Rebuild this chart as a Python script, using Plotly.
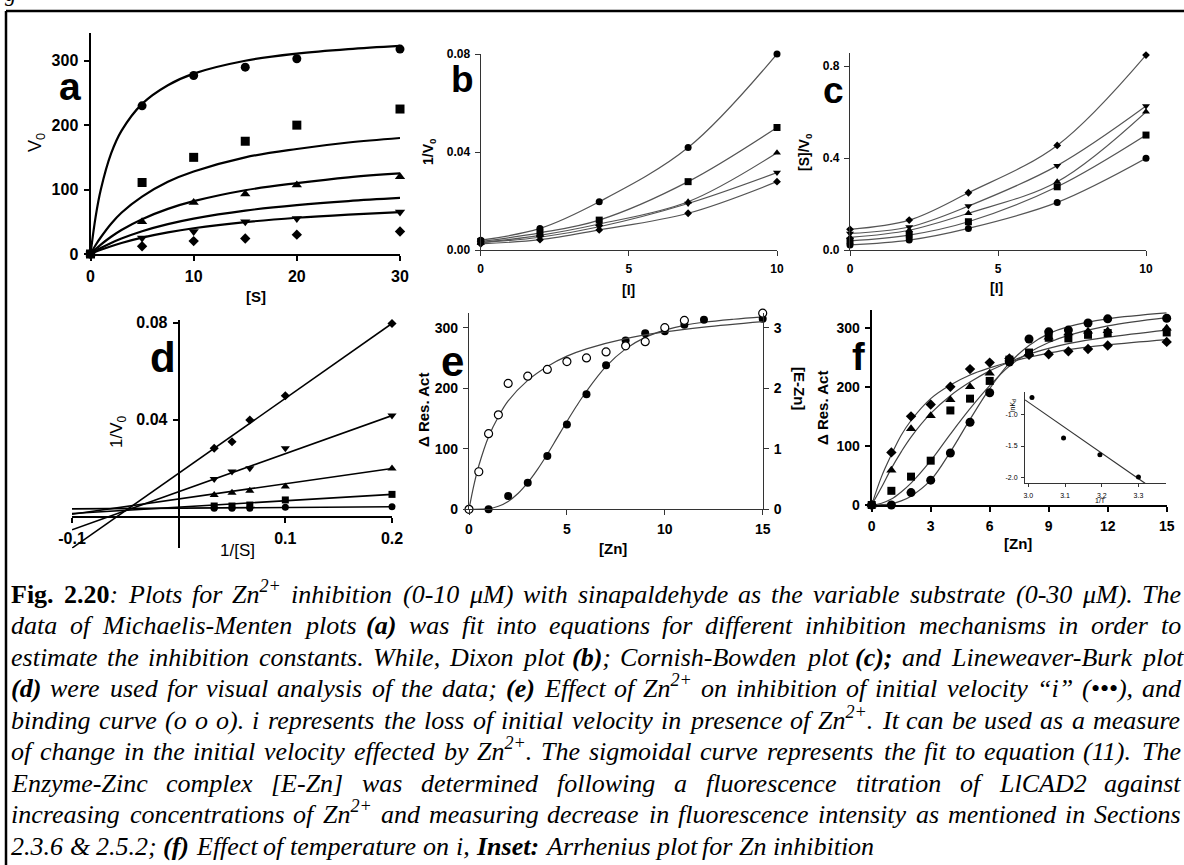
import plotly.graph_objects as go

W, H = 1184, 865

# ---------------- data ----------------
# Panel a: Michaelis-Menten
a_S = [0, 5, 10, 15, 20, 30]
a_circle = [0, 230, 277, 290, 303, 318]
a_square = [0, 111, 150, 175, 200, 225]
a_tri_up = [0, 50, 80, 93, 107, 120]
a_tri_down = [0, 25, 35, 50, 55, 65]
a_diamond = [0, 12, 20, 24, 30, 35]
a_fit_S = [0, 0.5, 1, 2, 3, 5, 7.5, 10, 15, 20, 25, 30]
a_fit1 = [0, 58, 100, 156, 191, 233, 262, 280, 300, 311, 318, 323]
a_fit2 = [0, 14, 26, 47, 64, 89, 112, 128, 150, 163, 173, 180]
a_fit3 = [0, 7.6, 14.6, 26.8, 37.3, 54, 70, 82, 99, 110, 119, 125]
a_fit4 = [0, 4.8, 9.2, 17.1, 24, 35.4, 46.4, 55, 67.4, 75.9, 82.2, 87]
a_fit5 = [0, 3.4, 6.5, 12.1, 17.1, 25.4, 33.6, 40, 49.5, 56.3, 61.2, 65]

# Panel b: Dixon plot
b_I = [0, 2, 4, 7, 10]
b_circle = [0.004, 0.0088, 0.0197, 0.0418, 0.080]
b_square = [0.0035, 0.007, 0.0122, 0.0279, 0.050]
b_tri_up = [0.003, 0.006, 0.0106, 0.0197, 0.0397]
b_tri_down = [0.003, 0.0052, 0.0095, 0.019, 0.0316]
b_diamond = [0.0025, 0.0042, 0.0082, 0.015, 0.0279]

# Panel c: Cornish-Bowden plot
c_I = [0, 2, 4, 7, 10]
c_diamond = [0.09, 0.13, 0.249, 0.455, 0.848]
c_tri_down = [0.072, 0.10, 0.191, 0.367, 0.626]
c_tri_up = [0.055, 0.086, 0.16, 0.297, 0.601]
c_square = [0.04, 0.065, 0.123, 0.275, 0.50]
c_circle = [0.022, 0.043, 0.094, 0.207, 0.399]

# Panel d: Lineweaver-Burk plot
d_invS = [0.0333, 0.05, 0.0667, 0.1, 0.2]
d_diamond = [0.0282, 0.0309, 0.0399, 0.0499, 0.0797]
d_tri_down = [0.0155, 0.0186, 0.020, 0.0282, 0.0417]
d_tri_up = [0.0089, 0.0099, 0.0107, 0.0124, 0.0199]
d_square = [0.0044, 0.0044, 0.0048, 0.0069, 0.0092]
d_circle = [0.0035, 0.0035, 0.0035, 0.0039, 0.0041]
d_line_x = [-0.1, 0.2]
d_line_diamond = [-0.0130, 0.0797]
d_line_tri_down = [-0.0054, 0.0417]
d_line_tri_up = [0.0010, 0.0199]
d_line_square = [0.0013, 0.0092]
d_line_circle = [0.0032, 0.0041]

# Panel e: inhibition "i" (left axis) and binding [E-Zn] (right axis)
e_i_Zn = [0, 1, 2, 3, 4, 5, 6, 7, 8, 9, 10, 11, 12, 15]
e_i = [0, 0, 22, 44, 88, 140, 190, 238, 279, 291, 294, 305, 313, 315]
e_sig_Zn = [0, 1, 1.5, 2, 2.5, 3, 3.5, 4, 4.5, 5, 5.5, 6, 7, 8, 9, 10, 11, 12, 13.5, 15]
e_sig_fit = [0, 1, 5, 13, 26, 44, 66, 91, 118, 145, 171, 195, 236, 265, 284, 296, 304, 309, 314, 318]
e_bind_Zn = [0, 0.5, 1, 1.5, 2, 3, 4, 5, 6, 7, 8, 9, 10, 11, 15]
e_bind = [0, 0.62, 1.25, 1.56, 2.08, 2.20, 2.31, 2.44, 2.50, 2.60, 2.70, 2.77, 3.00, 3.12, 3.24]
e_bfit_Zn = [0, 0.25, 0.5, 1, 1.5, 2, 3, 4, 5, 6, 8, 10, 12, 15]
e_bind_fit = [0, 0.40, 0.72, 1.20, 1.53, 1.79, 2.13, 2.36, 2.53, 2.65, 2.82, 2.93, 3.01, 3.10]

# Panel f: temperature series
f_Zn = [0, 1, 2, 3, 4, 5, 6, 7, 8, 9, 10, 11, 12, 15]
f_diamond = [0, 89, 150, 170, 200, 230, 241, 248, 254, 255, 260, 264, 270, 276]
f_tri_up = [0, 59, 129, 151, 178, 200, 223, 247, 257, 284, 291, 294, 295, 299]
f_square = [0, 24, 48, 75, 160, 180, 210, 246, 258, 283, 282, 288, 291, 292]
f_circle = [0, 0, 21, 42, 88, 140, 190, 242, 281, 293, 296, 308, 315, 316]
f_fit_Zn = [0, 0.5, 1, 1.5, 2, 3, 4, 5, 6, 7, 8, 9, 10, 12, 15]
f_fit_diamond = [0, 48, 85, 118, 143, 180, 203, 220, 232, 242, 250, 257, 263, 271, 280]
f_fit_tri_up = [0, 30, 62, 90, 115, 155, 185, 208, 227, 242, 255, 265, 273, 284, 296]
f_fit_square = [0, 3, 10, 22, 37, 75, 120, 163, 202, 235, 258, 275, 287, 303, 317]
f_fit_circle = [0, 0.5, 2, 7, 15, 42, 90, 145, 197, 240, 270, 290, 302, 315, 325]

# Inset: Arrhenius plot
ins_invT = [3.01, 3.096, 3.195, 3.30]
ins_lnK = [-0.72, -1.37, -1.64, -2.0]
ins_line_x = [2.991, 3.318]
ins_line_y = [-0.757, -2.10]

# Caption lines (** = bold italic, ## = bold upright, ^{..} = superscript)
caption_lines = [
    "##Fig. 2.20##: Plots for Zn^{2+} inhibition (0-10 μM) with sinapaldehyde as the variable substrate (0-30 μM). The",
    "data of Michaelis-Menten plots **(a)** was fit into equations for different inhibition mechanisms in order to",
    "estimate the inhibition constants. While, Dixon plot **(b)**; Cornish-Bowden plot **(c);** and Lineweaver-Burk plot",
    "**(d)** were used for visual analysis of the data; **(e)** Effect of Zn^{2+} on inhibition of initial velocity “i” (•••), and",
    "binding curve (o o o). i represents the loss of initial velocity in presence of Zn^{2+}. It can be used as a measure",
    "of change in the initial velocity effected by Zn^{2+}. The sigmoidal curve represents the fit to equation (11). The",
    "Enzyme-Zinc complex [E-Zn] was determined following a fluorescence titration of LlCAD2 against",
    "increasing concentrations of Zn^{2+} and measuring decrease in fluorescence intensity as mentioned in Sections",
    "2.3.6 & 2.5.2; **(f)** Effect of temperature on i, **Inset:** Arrhenius plot for Zn inhibition",
]

# ---------------- helpers ----------------
SANS = "Liberation Sans, Arial, sans-serif"
SERIF = "Liberation Serif, Times New Roman, serif"


def fx(x):
    return x / W


def fy(y):
    return 1 - y / H


def dom_x(x0, x1):
    return [x0 / W, x1 / W]


def dom_y(top, bottom):
    return [1 - bottom / H, 1 - top / H]


fig = go.Figure()


def markers(x, y, xa, ya, symbol, size, open_=False):
    fig.add_trace(go.Scatter(
        x=x, y=y, xaxis=xa, yaxis=ya, mode="markers",
        marker=dict(symbol=symbol, size=size,
                    color="white" if open_ else "black",
                    line=dict(color="black", width=1.2 if open_ else 0)),
        cliponaxis=False, showlegend=False, hoverinfo="skip"))


def curve(x, y, xa, ya, width, color, shape="spline"):
    fig.add_trace(go.Scatter(
        x=x, y=y, xaxis=xa, yaxis=ya, mode="lines",
        line=dict(color=color, width=width, shape=shape),
        showlegend=False, hoverinfo="skip"))


def axis(domain, rng, tickvals, ticktext=None, fsize=14, lw=2.0, lc="black",
         anchor=None, position=None, side=None, overlaying=None, ticklen=5,
         bold=True, standoff=2):
    d = dict(domain=domain, range=rng, showline=True, linecolor=lc, linewidth=lw,
             ticks="outside", ticklen=ticklen, tickwidth=lw, tickcolor=lc,
             tickmode="array", tickvals=tickvals,
             tickfont=dict(family=SANS, size=fsize, color="black",
                           weight="bold" if bold else "normal"),
             showgrid=False, zeroline=False, fixedrange=True, automargin=False,
             ticklabelstandoff=standoff)
    if ticktext is not None:
        d["ticktext"] = ticktext
    if anchor is not None:
        d["anchor"] = anchor
    if position is not None:
        d["position"] = position
    if side is not None:
        d["side"] = side
    if overlaying is not None:
        d["overlaying"] = overlaying
    return d


def label(x, y, s, size, bold=True, angle=0, family=SANS, xanchor="center",
          yanchor="middle"):
    fig.add_annotation(x=fx(x), y=fy(y), xref="paper", yref="paper", text=s,
                       showarrow=False, textangle=angle,
                       font=dict(family=family, size=size, color="black",
                                 weight="bold" if bold else "normal"),
                       xanchor=xanchor, yanchor=yanchor)


# ---------------- panel a ----------------
for yv in (a_fit1, a_fit2, a_fit3, a_fit4, a_fit5):
    curve(a_fit_S, yv, "x", "y", 2.2, "black")
markers(a_S, a_circle, "x", "y", "circle", 9)
markers(a_S, a_square, "x", "y", "square", 9)
markers(a_S, a_tri_up, "x", "y", "triangle-up", 9)
markers(a_S, a_tri_down, "x", "y", "triangle-down", 9)
markers(a_S, a_diamond, "x", "y", "diamond", 8)

# ---------------- panel b ----------------
for yv in (b_circle, b_square, b_tri_up, b_tri_down, b_diamond):
    curve(b_I, yv, "x2", "y2", 1.2, "#555555")
markers(b_I, b_circle, "x2", "y2", "circle", 7)
markers(b_I, b_square, "x2", "y2", "square", 7)
markers(b_I, b_tri_up, "x2", "y2", "triangle-up", 7)
markers(b_I, b_tri_down, "x2", "y2", "triangle-down", 7)
markers(b_I, b_diamond, "x2", "y2", "diamond", 6)

# ---------------- panel c ----------------
for yv in (c_diamond, c_tri_down, c_tri_up, c_square, c_circle):
    curve(c_I, yv, "x3", "y3", 1.2, "#555555")
markers(c_I, c_diamond, "x3", "y3", "diamond", 6)
markers(c_I, c_tri_down, "x3", "y3", "triangle-down", 7)
markers(c_I, c_tri_up, "x3", "y3", "triangle-up", 7)
markers(c_I, c_square, "x3", "y3", "square", 7)
markers(c_I, c_circle, "x3", "y3", "circle", 7)

# ---------------- panel d ----------------
for yv in (d_line_diamond, d_line_tri_down, d_line_tri_up, d_line_square, d_line_circle):
    curve(d_line_x, yv, "x4", "y4", 1.6, "black", shape="linear")
markers(d_invS, d_diamond, "x4", "y4", "diamond", 7)
markers(d_invS, d_tri_down, "x4", "y4", "triangle-down", 8)
markers(d_invS, d_tri_up, "x4", "y4", "triangle-up", 8)
markers(d_invS, d_square, "x4", "y4", "square", 7)
markers(d_invS, d_circle, "x4", "y4", "circle", 7)

# ---------------- panel e ----------------
curve(e_sig_Zn, e_sig_fit, "x5", "y5", 1.2, "#444444")
curve(e_bfit_Zn, e_bind_fit, "x5", "y6", 1.2, "#444444")
markers(e_i_Zn, e_i, "x5", "y5", "circle", 8)
markers(e_bind_Zn, e_bind, "x5", "y6", "circle", 8, open_=True)

# ---------------- panel f ----------------
for yv in (f_fit_diamond, f_fit_tri_up, f_fit_square, f_fit_circle):
    curve(f_fit_Zn, yv, "x7", "y7", 1.2, "#444444")
markers(f_Zn, f_diamond, "x7", "y7", "diamond", 8)
markers(f_Zn, f_tri_up, "x7", "y7", "triangle-up", 9)
markers(f_Zn, f_square, "x7", "y7", "square", 8)
markers(f_Zn, f_circle, "x7", "y7", "circle", 9)

# inset
curve(ins_line_x, ins_line_y, "x8", "y8", 1.2, "#333333", shape="linear")
markers(ins_invT, ins_lnK, "x8", "y8", "circle", 5)

# ---------------- axes ----------------
layout_axes = dict(
    xaxis=axis(dom_x(90.5, 400), [0, 30], [0, 10, 20, 30], fsize=16, anchor="y"),
    yaxis=axis(dom_y(33, 254), [0, 343], [0, 100, 200, 300], fsize=16, anchor="x"),
    xaxis2=axis(dom_x(480.7, 777), [0, 10], [0, 5, 10], fsize=12, lw=1.3, lc="#333333", anchor="y2"),
    yaxis2=axis(dom_y(54, 250), [0, 0.08], [0, 0.04, 0.08], ["0.00", "0.04", "0.08"],
                fsize=12, lw=1.3, lc="#333333", anchor="x2"),
    xaxis3=axis(dom_x(850, 1146), [0, 10], [0, 5, 10], fsize=12, lw=1.3, lc="#333333", anchor="y3"),
    yaxis3=axis(dom_y(53, 250), [0, 0.857], [0, 0.4, 0.8], ["0.0", "0.4", "0.8"],
                fsize=12, lw=1.3, lc="#333333", anchor="x3"),
    xaxis4=axis(dom_x(72, 392), [-0.1, 0.2], [-0.1, 0.1, 0.2], ["-0.1", "0.1", "0.2"],
                fsize=16, anchor="free", position=fy(516.7)),
    yaxis4=axis(dom_y(320.3, 548.2), [-0.013, 0.081], [0.04, 0.08], ["0.04", "0.08"],
                fsize=16, anchor="free", position=fx(178.7)),
    xaxis5=axis(dom_x(469, 762.7), [0, 15], [0, 5, 10, 15], fsize=14, lw=1.3, lc="#333333", anchor="y5"),
    yaxis5=axis(dom_y(313, 509.3), [0, 324.3], [0, 100, 200, 300], fsize=14, lw=1.3,
                lc="#333333", anchor="x5"),
    yaxis6=axis(dom_y(313, 509.3), [0, 3.243], [0, 1, 2, 3], fsize=14, lw=1.3, lc="#333333",
                anchor="x5", side="right", overlaying="y5"),
    xaxis7=axis(dom_x(871.7, 1166.7), [0, 15], [0, 3, 6, 9, 12, 15], fsize=14, anchor="y7"),
    yaxis7=axis(dom_y(310, 505), [0, 330], [0, 100, 200, 300], fsize=14, anchor="x7"),
    xaxis8=axis(dom_x(1025, 1166), [2.991, 3.375], [3.0, 3.1, 3.2, 3.3],
                ["3.0", "3.1", "3.2", "3.3"], fsize=7, lw=1, lc="#333333", anchor="y8",
                ticklen=3, bold=False),
    yaxis8=axis(dom_y(392, 483.3), [-2.10, -0.63], [-2.0, -1.5, -1.0],
                ["-2.0", "-1.5", "-1.0"], fsize=7, lw=1, lc="#333333", anchor="x8",
                ticklen=3, bold=False),
)
fig.update_layout(**layout_axes)

# ---------------- axis titles & panel letters ----------------
label(37, 143, "V<sub>0</sub>", 18, bold=False, angle=-90)
label(256, 296, "[S]", 15)
label(70, 86, "a", 39)

label(429, 152, "1/V<sub>0</sub>", 14, angle=-90)
label(628, 290, "[I]", 14)
label(462, 79, "b", 37)

label(805, 152, "[S]/V<sub>0</sub>", 14, angle=-90)
label(996, 288, "[I]", 14)
label(833, 90, "c", 37)

label(118, 432, "1/V<sub>0</sub>", 17, bold=False, angle=-90)
label(237, 550, "1/[S]", 17, bold=False)
label(163, 357, "d", 42)

label(423, 410, "Δ Res. Act", 15, angle=-90)
label(613, 548, "[Zn]", 15)
label(800, 388, "[E-Zn]", 15, angle=90)
label(452, 361, "e", 42)

label(822, 408, "Δ Res. Act", 15, angle=-90)
label(1018, 543, "[Zn]", 15)
label(858, 357, "f", 38)

label(1013, 406, "lnK<sub>d</sub>", 7, bold=False, angle=-90)
label(1100, 500, "1/T", 7, bold=False)

# clipped glyph of the previous text line at the very top
label(10, 8, "<i>g</i>", 22, bold=False, family=SERIF, yanchor="bottom")

# ---------------- caption (justified word by word) ----------------
LEFT, RIGHT = 10, 1180
BASE0, LEAD = 604, 31.5

# Times/Liberation Serif italic advance widths (1/1000 em)
IT_W = {' ': 250, 'a': 500, 'b': 500, 'c': 444, 'd': 500, 'e': 444, 'f': 278, 'g': 500,
        'h': 500, 'i': 278, 'j': 278, 'k': 444, 'l': 278, 'm': 722, 'n': 500, 'o': 500,
        'p': 500, 'q': 500, 'r': 389, 's': 389, 't': 278, 'u': 500, 'v': 444, 'w': 667,
        'x': 444, 'y': 444, 'z': 389, 'A': 611, 'B': 611, 'C': 667, 'D': 722, 'E': 611,
        'F': 611, 'G': 722, 'H': 722, 'I': 333, 'J': 444, 'K': 667, 'L': 556, 'M': 833,
        'N': 667, 'O': 722, 'P': 611, 'Q': 722, 'R': 611, 'S': 500, 'T': 556, 'U': 722,
        'V': 611, 'W': 833, 'X': 611, 'Y': 556, 'Z': 556, '.': 250, ',': 250, ':': 333,
        ';': 333, '(': 333, ')': 333, '-': 333, '[': 389, ']': 389, '&': 778, '“': 556,
        '”': 556, '•': 350, 'μ': 500, '+': 675}
BOLD_UP_W = {'F': 611, 'i': 278, 'g': 500, '.': 250, '2': 500, '0': 500, ':': 333}
BOLD_IT_W = {'f': 333, 'n': 556, 'I': 389, 't': 278, 's': 389, 'e': 444}


def parse(line):
    words, cur = [], []
    bold = upright = sup = False
    i = 0
    while i < len(line):
        if line.startswith("##", i):
            upright = not upright
            i += 2
            continue
        if line.startswith("**", i):
            bold = not bold
            i += 2
            continue
        if line.startswith("^{", i):
            sup = True
            i += 2
            continue
        ch = line[i]
        if ch == "}" and sup:
            sup = False
            i += 1
            continue
        if ch == " ":
            if cur:
                words.append(cur)
                cur = []
            i += 1
            continue
        cur.append((ch, bold or upright, not upright, sup))
        i += 1
    if cur:
        words.append(cur)
    return words


def word_html(word):
    out, run, style = "", "", None
    def flush(run, style):
        if not run:
            return ""
        t = run.replace("&", "&amp;")
        b, it, sp = style
        if sp:
            t = "<sup>" + t + "</sup>"
        if b:
            t = "<b>" + t + "</b>"
        if it:
            t = "<i>" + t + "</i>"
        return t
    for ch, b, it, sp in word:
        st = (b, it, sp)
        if st != style:
            out += flush(run, style)
            run, style = "", st
        run += ch
    out += flush(run, style)
    return out


def word_em(word):
    tot = 0.0
    for ch, b, it, sp in word:
        w = 500 if ch.isdigit() else IT_W.get(ch, 500)
        if b and not it:
            w = BOLD_UP_W.get(ch, w)
        elif b and it:
            w = BOLD_IT_W.get(ch, w)
        if sp:
            w *= 0.7
        tot += w
    return tot / 1000.0


parsed = [parse(l) for l in caption_lines]
# font size: as large as 26 px while every justified line keeps >= 0.2 em spaces
fits = []
for words in parsed[:-1]:
    em = sum(word_em(w) for w in words) + 0.2 * (len(words) - 1)
    fits.append((RIGHT - LEFT) / em)
CAP_SIZE = min(26.0, min(fits))

for i, words in enumerate(parsed):
    baseline = BASE0 + LEAD * i
    ybot = baseline + 0.216 * CAP_SIZE + 1
    widths = [word_em(w) * CAP_SIZE for w in words]
    if i < len(parsed) - 1:
        gap = (RIGHT - LEFT - sum(widths)) / (len(words) - 1)
    else:
        gap = 0.25 * CAP_SIZE
    x = LEFT
    for w, wd in zip(words, widths):
        fig.add_annotation(x=fx(x - 1), y=fy(ybot), xref="paper", yref="paper",
                           text=word_html(w), showarrow=False,
                           xanchor="left", yanchor="bottom",
                           font=dict(family=SERIF, size=CAP_SIZE, color="black"))
        x += wd + gap

# ---------------- frame ----------------
fig.add_shape(type="line", xref="paper", yref="paper", x0=fx(6), x1=fx(1184), y0=fy(11),
              y1=fy(11), line=dict(color="black", width=2.5))
fig.add_shape(type="line", xref="paper", yref="paper", x0=fx(6), x1=fx(6), y0=fy(11),
              y1=fy(865), line=dict(color="black", width=2.5))

fig.update_layout(width=W, height=H, autosize=False,
                  margin=dict(l=0, r=0, t=0, b=0, pad=0, autoexpand=False),
                  paper_bgcolor="white", plot_bgcolor="rgba(0,0,0,0)",
                  showlegend=False)

fig.write_html("out.html")
